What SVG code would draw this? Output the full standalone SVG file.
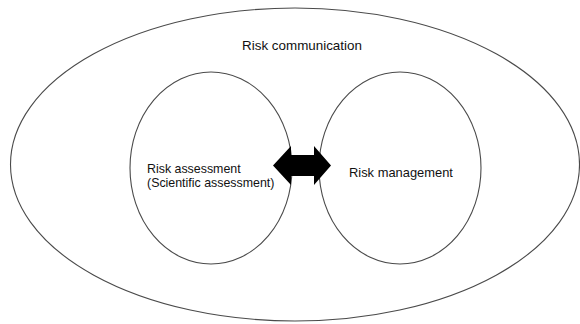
<svg xmlns="http://www.w3.org/2000/svg" width="580" height="324" viewBox="0 0 580 324">
  <style>
    .ring { fill: none; stroke: #4a4a4a; stroke-width: 1.1; }
    .label { font-family: "Liberation Sans", Arial, sans-serif; fill: #111; }
  </style>
  <rect width="580" height="324" fill="#fff"/>
  <g id="risk-communication">
    <ellipse class="ring" cx="295" cy="164.5" rx="284.5" ry="156.5"/>
    <text class="label" x="302" y="50" font-size="13.4" text-anchor="middle">Risk communication</text>
  </g>
  <g id="risk-assessment">
    <ellipse class="ring" cx="211" cy="168" rx="81" ry="96"/>
    <text class="label" font-size="12.4">
      <tspan x="147" y="172.5">Risk assessment</tspan>
      <tspan x="147" y="186.6">(Scientific assessment)</tspan>
    </text>
  </g>
  <g id="risk-management">
    <ellipse class="ring" cx="400" cy="168" rx="81" ry="96"/>
    <text class="label" x="349" y="177" font-size="12.9">Risk management</text>
  </g>
  <g id="connectors">
    <polygon fill="#000" points="273,165.5 291,146 291,155 314,155 314,146 331,165.5 314,185 314,176 291,176 291,185"/>
  </g>
</svg>
